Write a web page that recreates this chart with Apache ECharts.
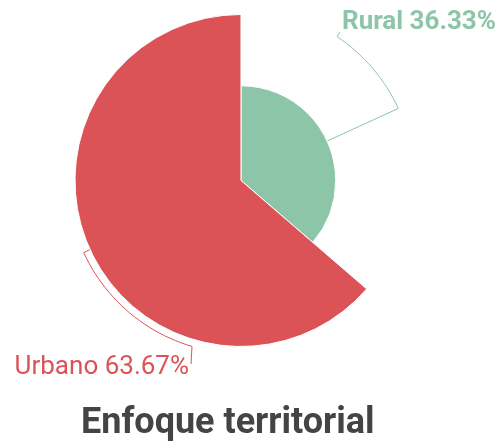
<!DOCTYPE html>
<html>
<head>
<meta charset="utf-8">
<script src="https://cdn.jsdelivr.net/npm/echarts@6/dist/echarts.min.js"></script>
<style>
  html, body { margin: 0; padding: 0; background: #fff; }
  #main { width: 501px; height: 444px; }
</style>
</head>
<body>
<div id="main"></div>
<script>
var categories = ['Rural', 'Urbano'];
var values = [36.33, 63.67];
var colors = ['#8dc5a8', '#db5357'];
var weights = ['bold', 'normal'];
var titleText = 'Enfoque territorial';

(function() {
  var chart = echarts.init(document.getElementById('main'), null, { renderer: 'canvas' });

  var maxR = 166;      // outer radius of the biggest petal
  var lineR = 173;     // radius the guide lines run along
  var cxPct = 0.481, cyPct = 0.4065;
  var total = values.reduce(function(a, b) { return a + b; }, 0);
  var maxV = Math.max.apply(null, values);

  // where each label sits and where its guide line stops
  var labelPos = [
    { x: 342, y: 22, align: 'left', endX: 337, tipX: 340, tipY: 32, upper: true },
    { x: 189, y: 367, align: 'right', endX: 192, tipX: 191, tipY: 364, upper: false }
  ];

  function pt(cx, cy, r, deg) {
    var a = deg * Math.PI / 180;
    return [cx + r * Math.sin(a), cy - r * Math.cos(a)];
  }

  function midAngle(i) {
    var start = 0;
    for (var k = 0; k < i; k++) start += values[k];
    return (start + values[i] / 2) / total * 360;
  }

  function layoutLabel(p) {
    var cx = chart.getWidth() * cxPct, cy = chart.getHeight() * cyPct;
    var i = p.dataIndex, L = labelPos[i];
    var mid = midAngle(i);
    var r = values[i] / maxV * maxR;
    var s = Math.asin((L.endX - cx) / lineR) * 180 / Math.PI;
    var end = L.upper ? s : 180 - s;
    var pts = [pt(cx, cy, r, mid), pt(cx, cy, lineR, mid)];
    var n = Math.ceil(Math.abs(mid - end) / 2);
    for (var k = 1; k <= n; k++) {
      pts.push(pt(cx, cy, lineR, mid + (end - mid) * k / n));
    }
    pts.push([L.tipX, L.tipY]);
    return {
      x: L.x, y: L.y, align: L.align, verticalAlign: 'middle',
      labelLinePoints: pts
    };
  }

  var data = categories.map(function(c, i) {
    return {
      name: c,
      value: values[i],
      itemStyle: { color: colors[i] },
      label: { color: colors[i], fontWeight: weights[i] },
      labelLine: { lineStyle: { color: colors[i] } }
    };
  });

  chart.setOption({
    animation: false,
    title: {
      text: titleText,
      left: 81,
      top: 406,
      padding: 0,
      textStyle: { fontSize: 36, fontWeight: 'bold', color: '#444', fontFamily: 'Roboto' }
    },
    series: [{
      type: 'pie',
      roseType: 'radius',
      center: [(cxPct * 100) + '%', (cyPct * 100) + '%'],
      radius: [0, maxR],
      startAngle: 90,
      clockwise: true,
      itemStyle: { borderColor: '#fff', borderWidth: 1 },
      label: {
        show: true,
        position: 'outside',
        formatter: '{b} {d}%',
        fontSize: 26,
        fontFamily: 'Roboto',
        overflow: 'none'
      },
      labelLine: { show: true, length: 10, length2: 10, smooth: false, lineStyle: { width: 1 } },
      labelLayout: layoutLabel,
      emphasis: { disabled: true },
      data: data
    }]
  });
  window.addEventListener('resize', function() { chart.resize(); });
})();
</script>
</body>
</html>
